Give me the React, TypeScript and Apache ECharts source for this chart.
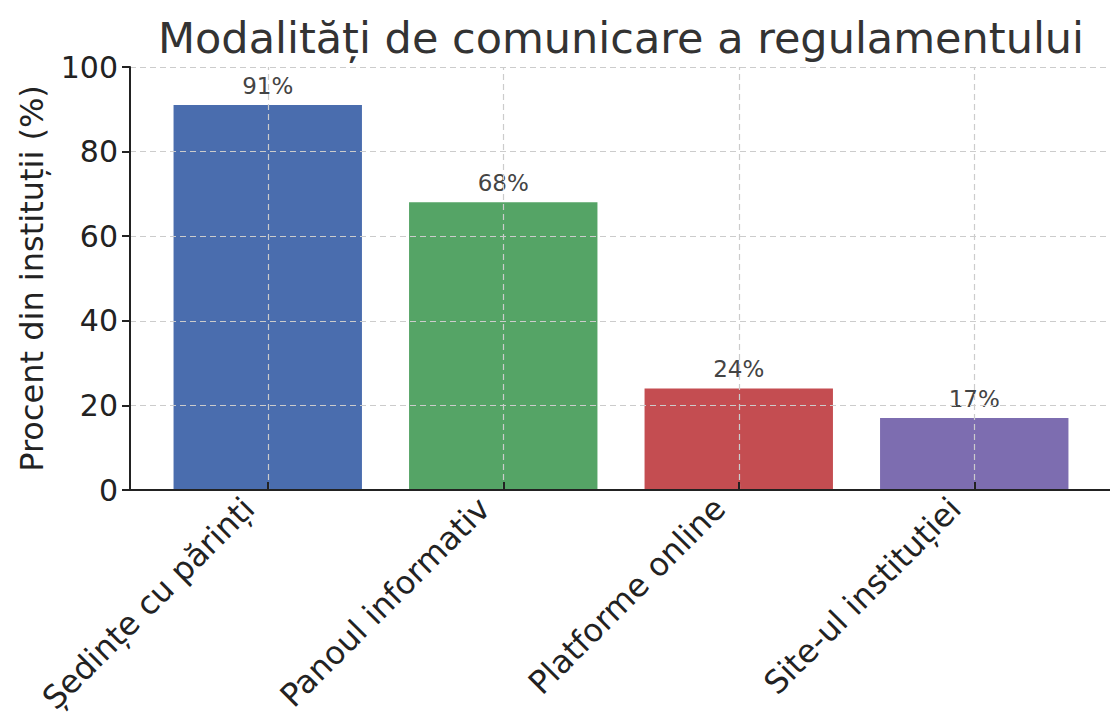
import React, { useEffect, useRef } from "react";
import * as echarts from "echarts";

const titleText = "Modalități de comunicare a regulamentului";
const yAxisName = "Procent din instituții (%)";
const categories = ["Ședințe cu părinți", "Panoul informativ", "Platforme online", "Site-ul instituției"];
const values = [91, 68, 24, 17];
const barColors = ["#4a6dae", "#55a466", "#c44d51", "#7d6db0"];
const yTicks = [0, 20, 40, 60, 80, 100];

const FONT = "DejaVu Sans";

export default function App() {
  const ref = useRef<HTMLDivElement>(null);
  useEffect(() => {
    if (!ref.current) return;
    const chart = echarts.init(ref.current, undefined, { renderer: "svg" });
    const top = 67;
    const bottom = 234;
    chart.setOption({
      animation: false,
      backgroundColor: "#ffffff",
      title: {
        text: titleText,
        left: 616,
        textAlign: "center",
        top: 11,
        textStyle: { fontFamily: FONT, fontSize: 43, fontWeight: "normal", color: "#333333" },
      },
      grid: [
        { left: 150, top, width: 942, bottom },
        { left: 130, top, right: -3, bottom },
      ],
      xAxis: [
        {
          type: "category",
          gridIndex: 0,
          data: categories,
          z: 5,
          axisLine: { show: false },
          axisTick: { show: true, inside: true, alignWithLabel: true, length: 8, lineStyle: { color: "#222", width: 2 } },
          axisLabel: {
            interval: 0,
            rotate: 45,
            fontFamily: FONT,
            fontSize: 32,
            color: "#222",
            margin: -6,
            align: "right",
            padding: [0, 27, 0, 0],
          },
          splitLine: { show: false },
        },
        {
          type: "value",
          gridIndex: 1,
          min: 0,
          max: 1,
          z: 5,
          axisLine: { show: true, lineStyle: { color: "#222", width: 2 } },
          axisTick: { show: false },
          axisLabel: { show: false },
          splitLine: { show: false },
        },
      ],
      yAxis: [
        { type: "value", gridIndex: 0, min: 0, max: 100, show: false, splitLine: { show: false } },
        {
          type: "value",
          gridIndex: 1,
          min: 0,
          max: 100,
          interval: 20,
          z: 5,
          name: yAxisName,
          nameLocation: "middle",
          nameGap: 82,
          nameTextStyle: { fontFamily: FONT, fontSize: 32, color: "#222" },
          axisLine: { show: true, lineStyle: { color: "#222", width: 2 } },
          axisTick: { show: true, length: 8, lineStyle: { color: "#222", width: 2 } },
          axisLabel: {
            fontFamily: FONT,
            fontSize: 30,
            color: "#222",
            margin: 12,
            formatter: (v: number) => (yTicks.includes(v) ? String(v) : ""),
          },
          splitLine: { show: true, lineStyle: { color: "#cccccc", type: [6, 4], width: 1.2 } },
        },
      ],
      series: [
        {
          type: "bar",
          xAxisIndex: 0,
          yAxisIndex: 0,
          barWidth: "80%",
          data: values.map((v, i) => ({ value: v, itemStyle: { color: barColors[i] } })),
          label: {
            show: true,
            position: "top",
            distance: 8,
            formatter: "{c}%",
            fontFamily: FONT,
            fontSize: 23,
            color: "#444",
          },
          markLine: {
            silent: true,
            symbol: "none",
            label: { show: false },
            lineStyle: { color: "#cccccc", type: [6, 4], width: 1.2 },
            data: categories.map((c) => ({ xAxis: c })),
          },
        },
      ],
    });
    return () => chart.dispose();
  }, []);
  return <div ref={ref} style={{ position: "absolute", left: 0, top: 0, width: 1110, height: 724 }} />;
}
